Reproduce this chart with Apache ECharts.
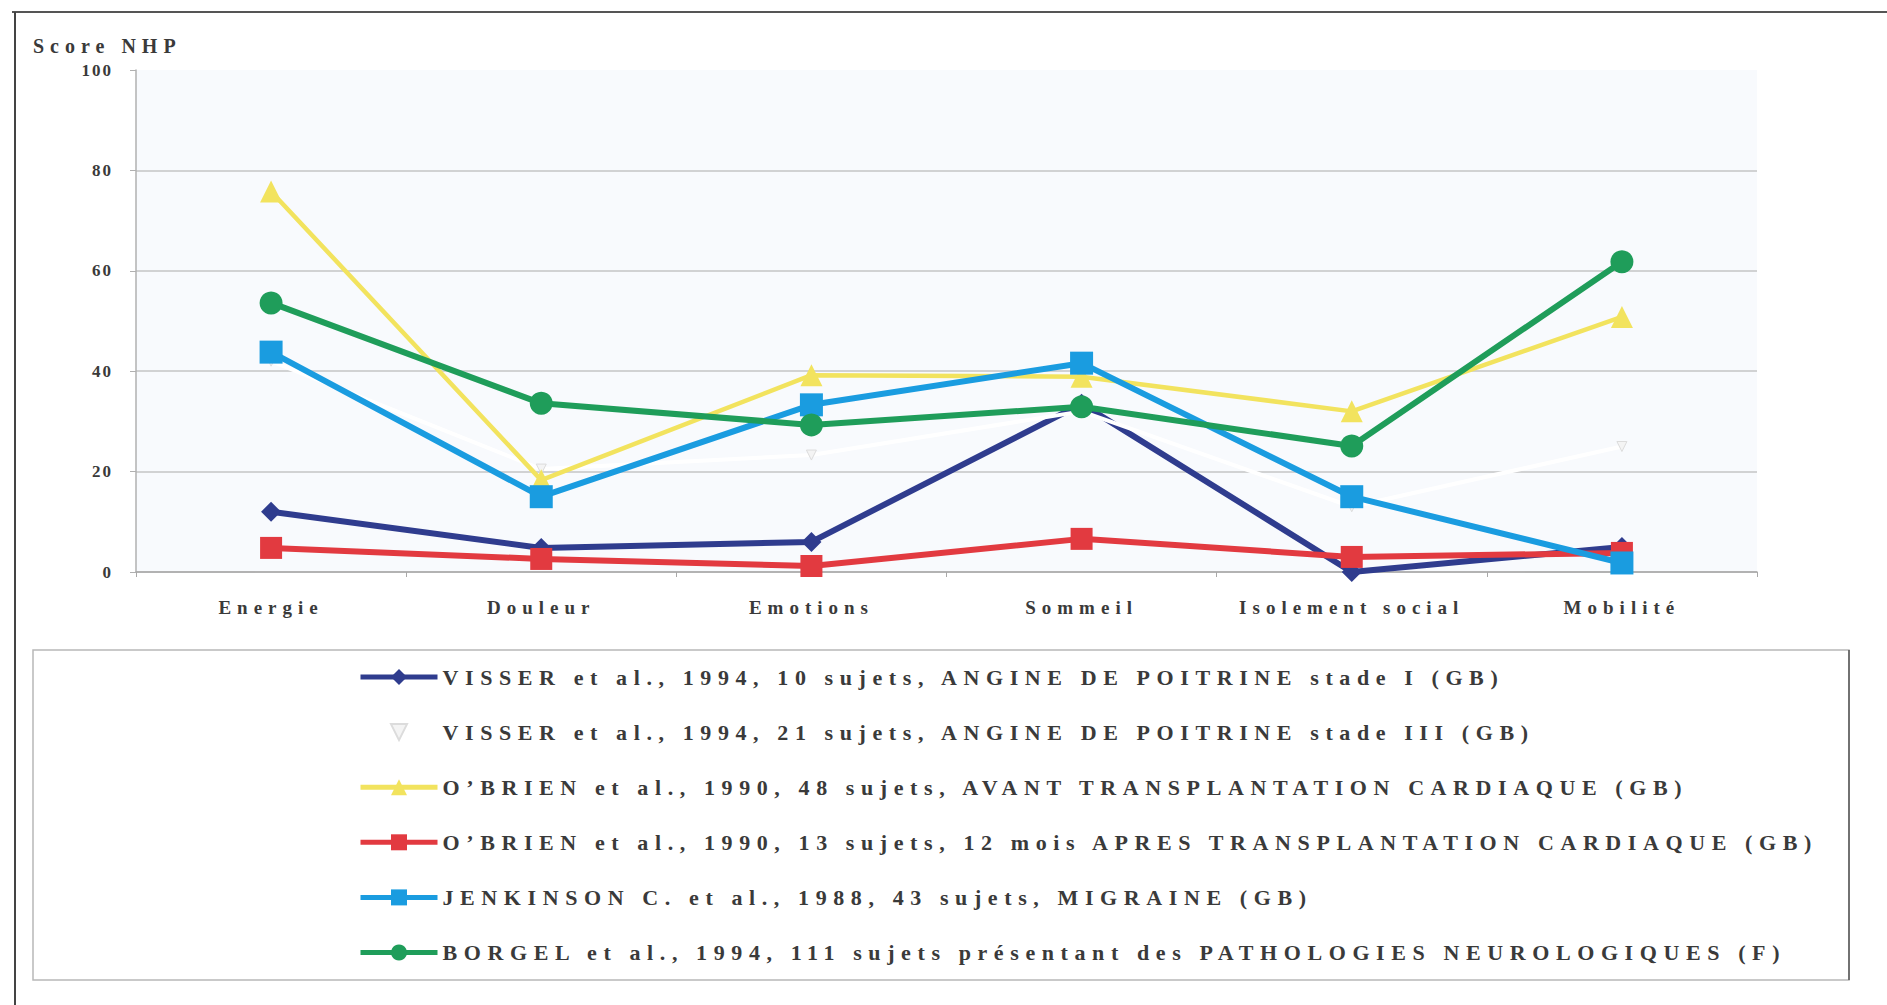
<!DOCTYPE html>
<html>
<head>
<meta charset="utf-8">
<script src="https://cdn.jsdelivr.net/npm/echarts@6/dist/echarts.min.js"></script>
<style>
  html, body { margin: 0; padding: 0; background: #ffffff; }
  #main { width: 1887px; height: 1005px; }
  #main svg text { letter-spacing: 6px; }
</style>
</head>
<body>
<div id="main"></div>
<script>
// ---- data ----
const categories = ['Energie', 'Douleur', 'Emotions', 'Sommeil', 'Isolement social', 'Mobilité'];
const yTicks = [0, 20, 40, 60, 80, 100];
const seriesNames = [
  'VISSER et al., 1994, 10 sujets, ANGINE DE POITRINE stade I (GB)',
  'VISSER et al., 1994, 21 sujets, ANGINE DE POITRINE stade III (GB)',
  'O’BRIEN et al., 1990, 48 sujets, AVANT TRANSPLANTATION CARDIAQUE (GB)',
  'O’BRIEN et al., 1990, 13 sujets, 12 mois APRES TRANSPLANTATION CARDIAQUE (GB)',
  'JENKINSON C. et al., 1988, 43 sujets, MIGRAINE (GB)',
  'BORGEL et al., 1994, 111 sujets présentant des PATHOLOGIES NEUROLOGIQUES (F)'
];
const visserStadeI   = [12, 4.8, 6, 33.5, 0, 5];
const visserStadeIII = [42, 20.5, 23.3, 32, 13, 25];
const obrienAvant    = [75.8, 18.3, 39.2, 38.9, 32, 50.8];
const obrienApres    = [4.8, 2.6, 1.2, 6.6, 3, 3.8];
const jenkinson      = [43.8, 15, 33.3, 41.6, 15, 1.8];
const borgel         = [53.6, 33.6, 29.3, 32.9, 25.1, 61.8];

const FONT = "'Liberation Serif', 'Times New Roman', serif";
const TXT = '#3a3a3a';
// letter spacing per font size (px): y labels, axis labels, title, legend
const SPACING = { '17px': '2px', '19px': '6px', '20px': '6px', '22px': '6.6px' };

const chart = echarts.init(document.getElementById('main'), null, { renderer: 'svg' });

function lineSeries(name, data, color, symbol, size, width, extra) {
  return Object.assign({
    name: name,
    type: 'line',
    data: data,
    symbol: symbol,
    symbolSize: size,
    showSymbol: true,
    animation: false,
    lineStyle: { color: color, width: width },
    itemStyle: { color: color, borderWidth: 0 },
    emphasis: { disabled: true }
  }, extra || {});
}

chart.setOption({
  backgroundColor: '#ffffff',
  animation: false,
  textStyle: { fontFamily: FONT },
  title: {
    text: 'Score NHP',
    left: 28, top: 31,
    textStyle: { fontFamily: FONT, fontSize: 20, fontWeight: 'bold', color: TXT }
  },
  grid: {
    left: 136, right: 130, top: 70, bottom: 433,
    show: true, backgroundColor: '#f8fafd', borderWidth: 0
  },
  xAxis: {
    type: 'category',
    data: categories,
    boundaryGap: true,
    axisLine: { show: true, lineStyle: { color: '#a8a8a8', width: 1.5 } },
    axisTick: { show: true, length: 5, lineStyle: { color: '#a8a8a8' } },
    axisLabel: { margin: 26, fontFamily: FONT, fontSize: 19, fontWeight: 'bold', color: TXT },
    splitLine: { show: false }
  },
  yAxis: {
    type: 'value',
    min: yTicks[0], max: yTicks[yTicks.length - 1], interval: 20,
    axisLine: { show: true, lineStyle: { color: '#b0b0b0', width: 1.5 } },
    axisTick: { show: true, length: 6, lineStyle: { color: '#b0b0b0' } },
    axisLabel: { margin: 23, fontFamily: FONT, fontSize: 17, fontWeight: 'bold', color: TXT },
    splitLine: { show: true, lineStyle: { color: ['#c4c4c4', '#c4c4c4', '#c4c4c4', '#c4c4c4', '#c4c4c4', 'rgba(0,0,0,0)'], width: 1.5 } }
  },
  legend: {
    orient: 'vertical',
    left: 358, top: 666,
    padding: 0,
    itemWidth: 77, itemHeight: 20,
    itemGap: 33.1,
    data: seriesNames,
    lineStyle: { width: 5 },
    textStyle: { fontFamily: FONT, fontSize: 22, fontWeight: 'bold', color: TXT, lineHeight: 22 },
    selectedMode: false
  },
  graphic: [
    { type: 'line', shape: { x1: 12, y1: 12, x2: 1887, y2: 12 }, style: { stroke: '#555', lineWidth: 2 }, silent: true },
    { type: 'line', shape: { x1: 15, y1: 12, x2: 15, y2: 1005 }, style: { stroke: '#444', lineWidth: 2 }, silent: true },
    { type: 'rect', shape: { x: 33, y: 650, width: 1816, height: 330 }, style: { fill: 'none', stroke: '#b8b8b8', lineWidth: 1.5 }, silent: true },
    { type: 'line', shape: { x1: 1849, y1: 650, x2: 1849, y2: 980 }, style: { stroke: '#555', lineWidth: 1.5 }, silent: true }
  ],
  series: [
    lineSeries(seriesNames[0], visserStadeI, '#2f3c8e', 'diamond', 20, 6),
    lineSeries(seriesNames[1], visserStadeIII, '#ffffff', 'triangle', 10, 4, {
      symbolRotate: 180,
      itemStyle: { color: '#f4f4f4', borderColor: '#dcdcdc', borderWidth: 1 }
    }),
    lineSeries(seriesNames[2], obrienAvant, '#f2e35e', 'triangle', 22, 4.5),
    lineSeries(seriesNames[3], obrienApres, '#e23a40', 'rect', 22, 6),
    lineSeries(seriesNames[4], jenkinson, '#1a9ce0', 'rect', 23, 6),
    lineSeries(seriesNames[5], borgel, '#1f9d5a', 'circle', 23, 6)
  ]
});

function applySpacing() {
  document.querySelectorAll('#main svg text').forEach(function (t) {
    const fs = window.getComputedStyle(t).fontSize;
    if (SPACING[fs]) t.style.letterSpacing = SPACING[fs];
  });
}
chart.on('finished', applySpacing);
applySpacing();
</script>
</body>
</html>
